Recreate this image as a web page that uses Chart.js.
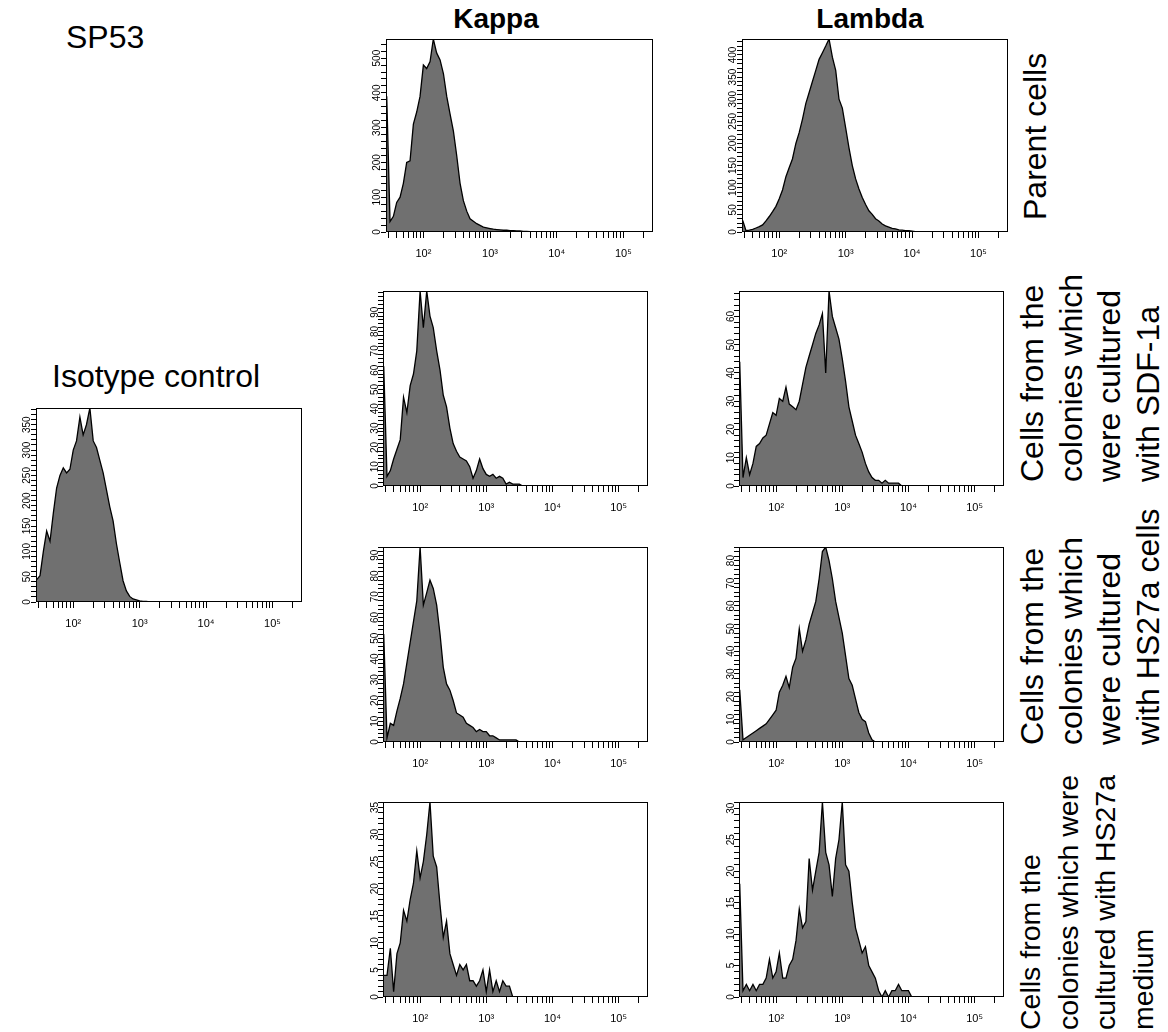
<!DOCTYPE html>
<html>
<head>
<meta charset="utf-8">
<script src="https://cdn.jsdelivr.net/npm/chart.js@4.4.1/dist/chart.umd.min.js"></script>
<style>
  body { margin: 0; background: #fff; }
  #page { position: relative; width: 1168px; height: 1032px; overflow: hidden;
          font-family: "Liberation Sans", Arial, sans-serif; color: #000; }
  .lbl { position: absolute; line-height: 1; white-space: nowrap; font-size: 32px; }
  .head { position: absolute; width: 200px; text-align: center; line-height: 1;
          font-size: 28px; font-weight: bold; }
  .vert { position: absolute; writing-mode: vertical-rl; transform: rotate(180deg);
          white-space: nowrap; font-size: 32px; line-height: 38.5px; height: 300px; }
  canvas { position: absolute; }
</style>
</head>
<body>
<div id="page">
  <div class="lbl" style="left:66px; top:21px;">SP53</div>
  <div class="head" style="left:396px; top:5px;">Kappa</div>
  <div class="head" style="left:770px; top:5px;">Lambda</div>
  <div class="lbl" style="left:52px; top:360px;">Isotype control</div>

  <div class="vert" style="left:1016px; top:-80px;">Parent cells</div>
  <div class="vert" style="left:1013px; top:182px;">Cells from the<br>colonies which<br>were cultured<br>with SDF-1a</div>
  <div class="vert" style="left:1013px; top:445px;">Cells from the<br>colonies which<br>were cultured<br>with HS27a cells</div>
  <div class="vert" style="left:1012px; top:730px; font-size:28.5px; line-height:37.5px;">Cells from the<br>colonies which were<br>cultured with HS27a<br>medium</div>
</div>

<script>
// fluorescence axis range
const X_MIN = 27.5;
const X_MAX = 278000;

// histogram channel centres (log spaced, 0.05 decade)
const channels = [28.2, 31.6, 35.5, 39.8, 44.7, 50.1, 56.2, 63.1, 70.8, 79.4, 89.1,
  100, 112, 126, 141, 158, 178, 200, 224, 251, 282, 316, 355, 398, 447, 501, 562, 631, 708, 794, 891,
  1000, 1122, 1259, 1413, 1585, 1778, 1995, 2239, 2512, 2818, 3162, 3548, 3981, 4467, 5012, 5623,
  6310, 7079, 7943, 8913, 10000, 11220, 12589];

const xTickDecades = [100, 1000, 10000, 100000];
const xTickLabels = ['10²', '10³', '10⁴', '10⁵'];

// counts per channel
const kappaParent = [390, 30, 45, 85, 100, 140, 200, 205, 310, 345, 390, 480, 470, 490, 555, 515, 495,
  455, 390, 340, 290, 220, 140, 90, 60, 38, 31, 24, 19, 14, 12, 10, 8, 7, 6, 5, 5, 4, 4, 3, 3, 2, 2, 1, 1, 0];
const lambdaParent = [26, 3, 4, 6, 9, 12, 16, 25, 35, 46, 58, 75, 95, 125, 145, 165, 200, 225, 255, 290,
  315, 340, 365, 390, 405, 420, 436, 395, 365, 300, 280, 235, 190, 150, 120, 97, 78, 62, 48, 40, 30, 25,
  18, 14, 11, 8, 7, 5, 4, 3, 3, 2, 1, 0];
const isotypeControl = [44, 52, 100, 140, 120, 175, 225, 250, 265, 255, 262, 300, 318, 365, 330, 350, 383,
  318, 305, 280, 255, 222, 188, 160, 115, 78, 42, 22, 11, 6, 4, 2, 1, 1, 0];
const kappaSdf = [62, 5, 8, 14, 19, 24, 46, 38, 52, 58, 70, 101, 82, 101, 88, 82, 70, 60, 47, 41, 30, 22,
  18, 15, 14, 13, 10, 4, 8, 14, 9, 6, 5, 6, 4, 5, 4, 1, 2, 1, 1, 1, 0];
const lambdaSdf = [44, 3, 10, 4, 8, 14, 15, 17, 18, 22, 26, 25, 31, 30, 35, 29, 28, 27, 30, 36, 42, 46, 50,
  54, 57, 61, 40, 69, 60, 56, 52, 45, 37, 28, 23, 18, 15, 12, 8, 5, 3, 2, 2, 1, 2, 1, 1, 1, 1, 0];
const kappaHs27aCells = [52, 2, 9, 8, 15, 21, 28, 38, 48, 58, 68, 94, 66, 72, 78, 74, 66, 52, 36, 28, 25,
  20, 14, 13, 12, 9, 8, 7, 5, 6, 5, 5, 3, 3, 2, 1, 1, 1, 1, 1, 1, 0];
const lambdaHs27aCells = [23, 1, 2, 3, 4, 5, 6, 7, 8, 10, 12, 14, 22, 25, 29, 24, 33, 37, 50, 40, 45, 52,
  57, 62, 72, 84, 86, 80, 72, 62, 55, 48, 38, 28, 25, 19, 13, 10, 9, 4, 1, 0];
const kappaHs27aMedium = [4, 4, 9, 1, 8, 10, 16, 14, 18, 21, 27, 22, 25, 30, 36, 26, 24, 17, 11, 14, 8, 6,
  4, 6, 5, 6, 3, 3, 2, 3, 5, 1, 5, 1, 3, 1, 3, 2, 2, 0];
const lambdaHs27aMedium = [18, 1, 2, 1, 2, 1, 2, 2, 3, 6, 3, 4, 7, 3, 3, 5, 6, 9, 14, 11, 12, 22, 17, 20,
  23, 31, 23, 21, 16, 22, 25, 31, 21, 20, 15, 11, 9, 7, 8, 5, 4, 3, 1, 0, 1, 0, 1, 1, 2, 1, 1, 1, 0];

// labelled y ticks
const yLabelsKappaParent = [0, 100, 200, 300, 400, 500];
const yLabelsLambdaParent = [0, 50, 100, 150, 200, 250, 300, 350, 400];
const yLabelsIsotype = [0, 50, 100, 150, 200, 250, 300, 350];
const yLabelsKappaSdf = [0, 10, 20, 30, 40, 50, 60, 70, 80, 90];
const yLabelsLambdaSdf = [0, 10, 20, 30, 40, 50, 60];
const yLabelsKappaHs27aCells = [0, 10, 20, 30, 40, 50, 60, 70, 80, 90];
const yLabelsLambdaHs27aCells = [0, 10, 20, 30, 40, 50, 60, 70, 80];
const yLabelsKappaHs27aMedium = [0, 5, 10, 15, 20, 25, 30, 35];
const yLabelsLambdaHs27aMedium = [0, 5, 10, 15, 20, 25, 30];

const panels = [
  { values: kappaParent, yLabels: yLabelsKappaParent, yMax: 555, yStep: 20, box: [386, 39, 653, 232] },
  { values: lambdaParent, yLabels: yLabelsLambdaParent, yMax: 436, yStep: 10, box: [742, 39, 1008, 232] },
  { values: isotypeControl, yLabels: yLabelsIsotype, yMax: 383, yStep: 10, box: [36, 408, 302, 602] },
  { values: kappaSdf, yLabels: yLabelsKappaSdf, yMax: 101, yStep: 2, box: [383, 291, 648, 486] },
  { values: lambdaSdf, yLabels: yLabelsLambdaSdf, yMax: 69, yStep: 2, box: [739, 291, 1004, 486] },
  { values: kappaHs27aCells, yLabels: yLabelsKappaHs27aCells, yMax: 94, yStep: 2, box: [383, 547, 648, 742] },
  { values: lambdaHs27aCells, yLabels: yLabelsLambdaHs27aCells, yMax: 86, yStep: 2, box: [739, 547, 1004, 742] },
  { values: kappaHs27aMedium, yLabels: yLabelsKappaHs27aMedium, yMax: 36, yStep: 1, box: [383, 802, 648, 997] },
  { values: lambdaHs27aMedium, yLabels: yLabelsLambdaHs27aMedium, yMax: 31, yStep: 1, box: [739, 802, 1004, 997] }
];

// minor ticks on the log axis: 30..90, 100..900, ... 200000
const xTickValues = [];
for (let d = 10; d <= 100000; d *= 10) {
  for (let m = 1; m <= 9; m++) {
    const v = m * d;
    if (v >= 30 && v <= 200000) xTickValues.push(v);
  }
}

const YW = 24, XH = 30, PT = 8, PR = 10;
const FONT = '"Liberation Sans", Arial, sans-serif';
const NARROW = '"Liberation Sans Narrow", "Liberation Sans", Arial, sans-serif';

// box around each plot area
const frame = {
  id: 'frame',
  afterDatasetsDraw(chart) {
    const { ctx, chartArea: a } = chart;
    ctx.save();
    ctx.strokeStyle = '#000';
    ctx.lineWidth = 1;
    ctx.strokeRect(Math.round(a.left) + 0.5, Math.round(a.top) + 0.5,
      Math.round(a.width) - 1, Math.round(a.height) - 1);
    ctx.restore();
  }
};

const page = document.getElementById('page');

panels.forEach(p => {
  const [l, t, r, b] = p.box;
  const canvas = document.createElement('canvas');
  canvas.width = (r - l) + YW + PR;
  canvas.height = (b - t) + PT + XH;
  canvas.style.left = (l - YW) + 'px';
  canvas.style.top = (t - PT) + 'px';
  page.appendChild(canvas);

  const yTicks = [];
  for (let v = 0; v <= p.yMax; v += p.yStep) yTicks.push(v);
  const labelWidth = Math.max(...p.yLabels.map(v => String(v).length)) * 5;

  new Chart(canvas, {
    type: 'line',
    data: {
      datasets: [{
        data: p.values.map((y, i) => ({ x: channels[i], y })),
        fill: 'origin',
        backgroundColor: '#707070',
        borderColor: '#000',
        borderWidth: 1.3,
        pointRadius: 0,
        tension: 0
      }]
    },
    options: {
      responsive: false,
      animation: false,
      layout: { padding: { top: PT, right: PR, left: 0, bottom: 0 } },
      plugins: { legend: { display: false }, tooltip: { enabled: false } },
      scales: {
        x: {
          type: 'logarithmic',
          min: X_MIN,
          max: X_MAX,
          afterBuildTicks: s => { s.ticks = xTickValues.map(v => ({ value: v })); },
          afterFit: s => { s.height = XH; },
          border: { display: false },
          grid: { drawOnChartArea: false, drawTicks: true, tickLength: 6, color: '#000' },
          ticks: {
            autoSkip: false,
            minRotation: 0,
            maxRotation: 0,
            padding: 9,
            color: '#000',
            font: { size: 11, family: FONT },
            callback: v => {
              const k = xTickDecades.indexOf(v);
              return k < 0 ? '' : xTickLabels[k];
            }
          }
        },
        y: {
          min: 0,
          max: p.yMax,
          afterBuildTicks: s => { s.ticks = yTicks.map(v => ({ value: v })); },
          afterFit: s => { s.width = YW; },
          border: { display: false },
          grid: { drawOnChartArea: false, drawTicks: true, tickLength: 5, color: '#000' },
          ticks: {
            autoSkip: false,
            minRotation: 90,
            maxRotation: 90,
            crossAlign: 'center',
            padding: 2.5 - labelWidth / 2,
            color: '#000',
            font: { size: 10, family: NARROW },
            callback: v => (p.yLabels.includes(v) ? String(v) : '')
          }
        }
      }
    },
    plugins: [frame]
  });
});
</script>
</body>
</html>
